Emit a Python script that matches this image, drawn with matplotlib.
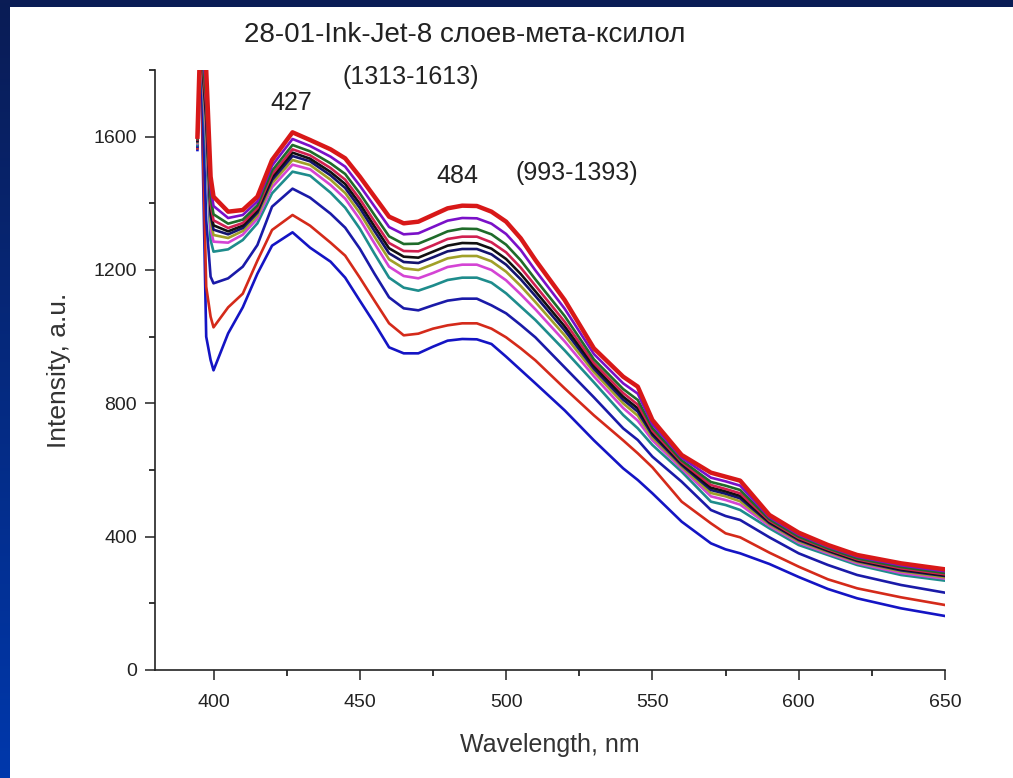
import matplotlib
matplotlib.use("Agg")
import matplotlib.pyplot as plt
import numpy as np
from matplotlib.colors import LinearSegmentedColormap
from matplotlib.patches import Rectangle
from matplotlib.ticker import MultipleLocator

# wavelength grid (nm) of the read-off points
wavelength = [394.5, 395.5, 397.5, 399, 400, 405, 410, 415, 420, 427, 433, 440, 445,
              450, 455, 460, 465, 470, 475, 480, 485, 490, 495, 500, 505, 510, 520,
              530, 540, 545, 550, 560, 570, 575, 580, 590, 600, 610, 620, 635, 650]

# spectra, from the lowest curve to the highest one
blue_1 = [1560, 1900, 1000, 930, 899, 1010, 1088, 1189, 1273, 1313, 1267, 1225, 1177,
          1108, 1040, 968, 950, 950, 970, 988, 993, 992, 978, 940, 900, 860, 779,
          689, 605, 570, 530, 445, 380, 362, 350, 318, 279, 243, 215, 185, 162]
red_2 = [1565, 1900, 1150, 1060, 1028, 1088, 1129, 1228, 1320, 1365, 1333, 1282, 1243,
         1177, 1108, 1040, 1004, 1009, 1024, 1034, 1040, 1040, 1024, 998, 965, 929, 845,
         764, 689, 650, 608, 505, 440, 410, 398, 352, 310, 272, 245, 218, 195]
navy_3 = [1570, 1900, 1350, 1180, 1160, 1175, 1210, 1275, 1390, 1444, 1417, 1369, 1327,
          1264, 1189, 1118, 1085, 1079, 1094, 1108, 1114, 1114, 1094, 1070, 1035, 998, 908,
          818, 725, 690, 640, 565, 480, 462, 450, 398, 350, 315, 285, 255, 232]
teal_4 = [1575, 1900, 1550, 1290, 1255, 1262, 1290, 1340, 1430, 1495, 1483, 1432, 1387,
          1324, 1249, 1177, 1147, 1138, 1153, 1170, 1177, 1177, 1162, 1130, 1090, 1050, 959,
          863, 765, 725, 675, 595, 505, 495, 480, 425, 375, 345, 315, 285, 268]
magenta_5 = [1580, 1900, 1595, 1324, 1285, 1282, 1306, 1354, 1448, 1516, 1502, 1455, 1414,
             1352, 1280, 1210, 1182, 1175, 1191, 1209, 1216, 1216, 1200, 1169, 1127, 1082, 986,
             881, 786, 748, 689, 604, 521, 510, 496, 432, 382, 350, 320, 291, 274]
olive_6 = [1583, 1900, 1625, 1347, 1305, 1296, 1317, 1364, 1460, 1530, 1515, 1471, 1431,
           1371, 1300, 1232, 1205, 1200, 1217, 1235, 1242, 1242, 1226, 1195, 1152, 1104, 1004,
           894, 800, 763, 698, 610, 531, 521, 506, 437, 386, 354, 324, 296, 278]
navy_7 = [1586, 1900, 1650, 1366, 1321, 1307, 1326, 1372, 1470, 1542, 1526, 1484, 1446,
          1386, 1317, 1250, 1224, 1221, 1238, 1256, 1263, 1263, 1247, 1216, 1172, 1122, 1019,
          904, 811, 775, 705, 615, 540, 529, 515, 441, 390, 357, 327, 299, 282]
black_8 = [1589, 1900, 1670, 1381, 1334, 1316, 1333, 1378, 1478, 1552, 1534, 1494, 1458,
           1399, 1331, 1265, 1240, 1237, 1255, 1273, 1281, 1280, 1264, 1233, 1188, 1136, 1031,
           912, 820, 785, 711, 619, 547, 536, 522, 444, 393, 359, 329, 302, 284]
crimson_9 = [1592, 1900, 1692, 1398, 1349, 1326, 1341, 1386, 1487, 1562, 1544, 1506, 1471,
             1413, 1346, 1281, 1257, 1256, 1274, 1293, 1300, 1300, 1283, 1253, 1207, 1153, 1045,
             921, 831, 796, 718, 624, 555, 543, 530, 448, 396, 362, 332, 305, 287]
green_10 = [1595, 1900, 1720, 1419, 1367, 1339, 1351, 1394, 1498, 1575, 1556, 1520, 1488,
            1430, 1365, 1301, 1278, 1279, 1297, 1316, 1324, 1323, 1307, 1276, 1229, 1172, 1062,
            932, 843, 810, 726, 629, 564, 553, 540, 452, 400, 365, 335, 309, 291]
purple_11 = [1598, 1900, 1757, 1448, 1392, 1356, 1365, 1406, 1513, 1593, 1572, 1540, 1510,
             1453, 1391, 1329, 1307, 1310, 1329, 1348, 1356, 1355, 1339, 1308, 1260, 1199, 1084,
             948, 860, 829, 737, 637, 577, 566, 553, 458, 406, 370, 340, 314, 296]
red_12 = [1600, 1900, 1800, 1480, 1420, 1375, 1380, 1420, 1530, 1613, 1590, 1562, 1535,
          1480, 1420, 1360, 1340, 1345, 1365, 1385, 1393, 1392, 1375, 1345, 1295, 1230, 1110,
          965, 880, 850, 750, 645, 592, 580, 568, 465, 412, 375, 345, 320, 302]

spectra = [blue_1, red_2, navy_3, teal_4, magenta_5, olive_6,
           navy_7, black_8, crimson_9, green_10, purple_11, red_12]
colors = ["#1414c4", "#d42a1a", "#1a1aa8", "#1e8c8c", "#d444d4", "#a0a028",
          "#14146e", "#111111", "#d02050", "#1f6b2a", "#7a10c8", "#d81818"]

title = "28-01-Ink-Jet-8 слоев-мета-ксилол"
peak_labels = [("427", 426.4, 1700), ("(1313-1613)", 467.5, 1780),
               ("484", 483.2, 1483), ("(993-1393)", 524.0, 1492)]

plt.rcParams["font.family"] = ["Liberation Sans", "DejaVu Sans"]

fig = plt.figure(figsize=(10.13, 7.78), dpi=100)

# slide frame: blue gradient with a white sheet on it
bg = fig.add_axes([0, 0, 1, 1], zorder=-10)
frame_cmap = LinearSegmentedColormap.from_list("frame", ["#0038ac", "#0a1c55"])
bg.imshow(np.linspace(0, 1, 256).reshape(-1, 1), cmap=frame_cmap, aspect="auto",
          extent=[0, 1, 0, 1], origin="lower")
bg.add_patch(Rectangle((10 / 1013, 0), 1, 771 / 778, color="white", lw=0))
bg.set_xlim(0, 1)
bg.set_ylim(0, 1)
bg.axis("off")

ax = fig.add_axes([155 / 1013, 108 / 778, 790 / 1013, 600 / 778])
ax.patch.set_alpha(0)

for values, color in zip(spectra, colors):
    lw = 3.2 if values is red_12 else 1.9
    ax.plot(wavelength, values, color=color, lw=lw)

ax.set_xlim(380, 650)
ax.set_ylim(0, 1800)
ax.xaxis.set_major_locator(MultipleLocator(50))
ax.xaxis.set_minor_locator(MultipleLocator(25))
ax.yaxis.set_major_locator(MultipleLocator(400))
ax.yaxis.set_minor_locator(MultipleLocator(200))
ax.tick_params(which="major", direction="out", length=7, width=1.1, labelsize=14,
               colors="#222222")
ax.tick_params(which="minor", direction="out", length=4, width=1.1)
ax.tick_params(axis="x", pad=10)
ax.tick_params(axis="y", pad=6)
for side in ("top", "right"):
    ax.spines[side].set_visible(False)
for side in ("left", "bottom"):
    ax.spines[side].set_linewidth(1.2)
    ax.spines[side].set_color("#222222")

ax.set_xlabel("Wavelength, nm", fontsize=18, color="#333333", labelpad=16)
ax.set_ylabel("Intensity, a.u.", fontsize=19, color="#333333", labelpad=16)

for text, x, y in peak_labels:
    ax.text(x, y, text, fontsize=18, color="#222222", ha="center", va="center",
            clip_on=False)

fig.text(465 / 1013, 1 - 35 / 778, title, fontsize=20, color="#222222",
         ha="center", va="center")

fig.savefig("out.png", dpi=100)
